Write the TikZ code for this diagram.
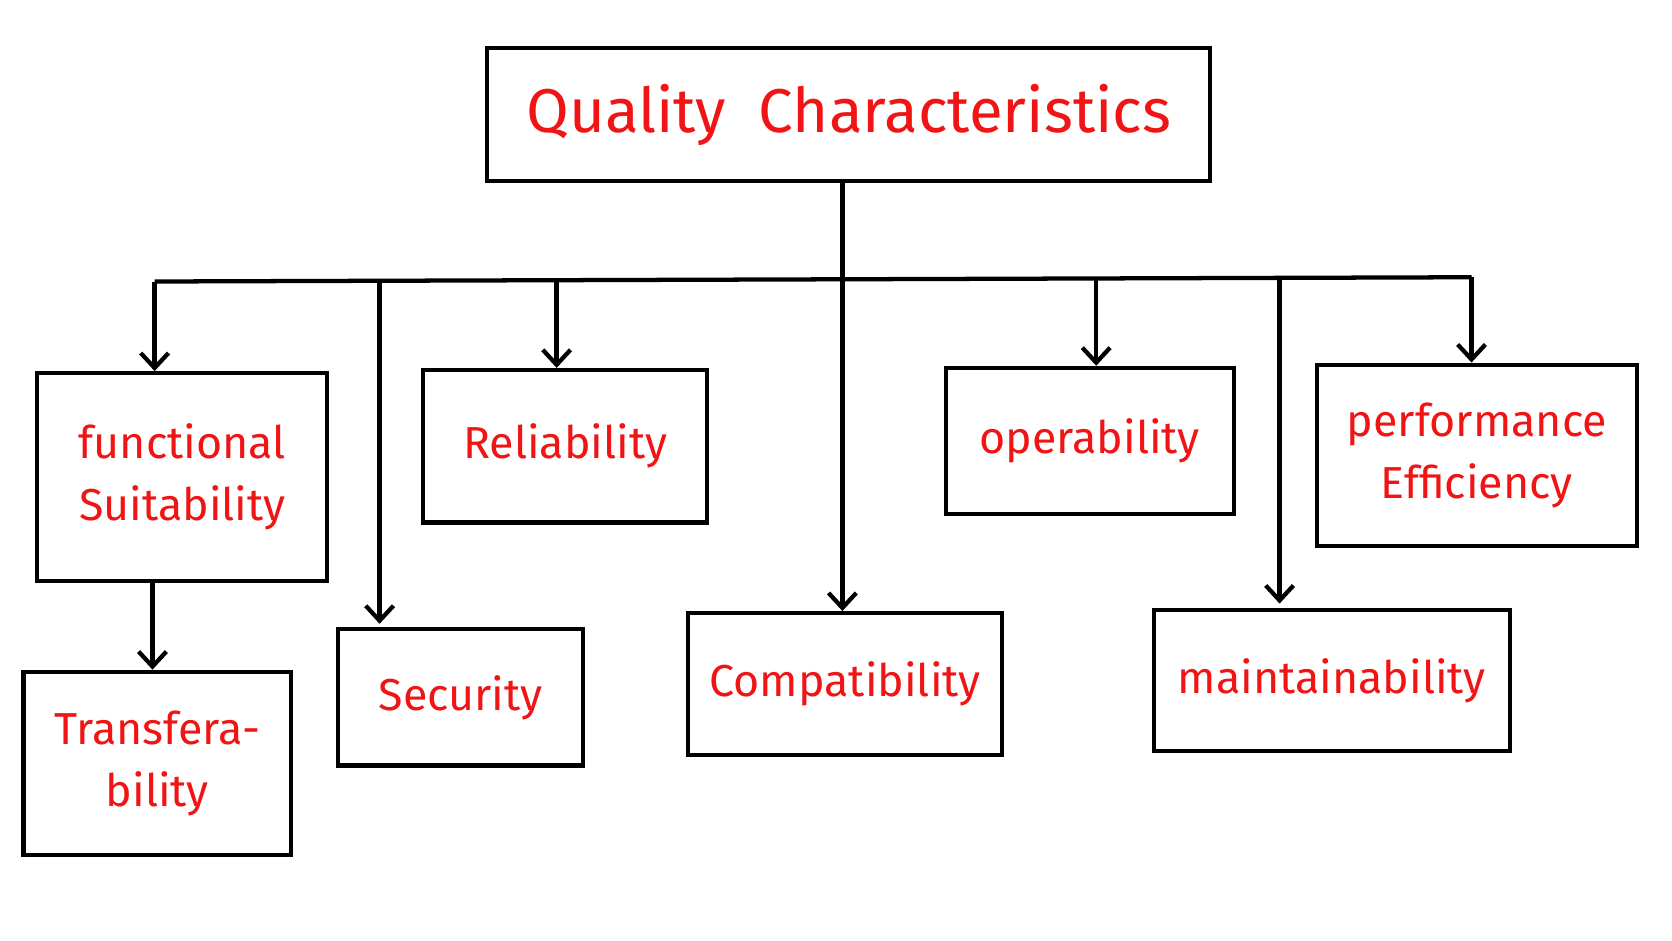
\documentclass[tikz,border=0pt]{standalone}
\usepackage{fontspec}
\setmainfont{Fira Sans}
\usetikzlibrary{arrows.meta}
\definecolor{lbl}{RGB}{240,20,20}
\begin{document}
\begin{tikzpicture}[x=1pt,y=-1pt,
  box/.style={draw=black,line width=4pt,text=lbl,align=center,inner sep=0pt,font=\fontsize{42}{58}\selectfont},
  conn/.style={draw=black,line width=4pt},
  arr/.style={conn,-{Straight Barb[length=14pt,width=26pt]}}]
\useasboundingbox (0,0) rectangle (1568,882);
\fill[white] (0,0) rectangle (1568,882);
\newcommand{\bx}[6]{\node[box,minimum width=#4-#2,minimum height=#5-#3] (#1) at ({(#2+#4)/2},{(#3+#5)/2}) {#6};}
\bx{top}{457}{45}{1135}{170}{\fontsize{58}{66}\selectfont Quality\ \ Characteristics}
\bx{fs}{35}{350}{307}{545}{functional\\Suitability}
\bx{tr}{22}{630}{273}{802}{Transfera-\\bility}
\bx{se}{317}{590}{547}{718}{Security}
\bx{re}{397}{347}{663}{490}{Reliability}
\bx{co}{645}{575}{940}{708}{Compatibility}
\bx{op}{887}{345}{1157}{482}{operability}
\bx{ma}{1082}{572}{1416}{704}{maintainability}
\bx{pe}{1235}{342}{1535}{512}{performance\\Efficiency}
\coordinate (bl) at (145,264);
\coordinate (br) at (1380,260);
\coordinate (bm) at (790,262);
\draw[conn] (top.south -| bm) -- (bm);
\draw[conn] (bl) -- (br);
\draw[arr] (bl) -- (fs.north -| bl) ;
\draw[arr] (356,264) -- (356,585);
\draw[arr] (522,263) -- (re.north -| 522,0);
\draw[arr] (bm) -- (co.north -| bm);
\draw[arr] (1028,261) -- (op.north -| 1028,0);
\draw[arr] (1200,261) -- (1200,566);
\draw[arr] (br) -- (pe.north -| br);
\draw[arr] (fs.south -| 143,0) -- (tr.north -| 143,0);
\end{tikzpicture}
\end{document}
